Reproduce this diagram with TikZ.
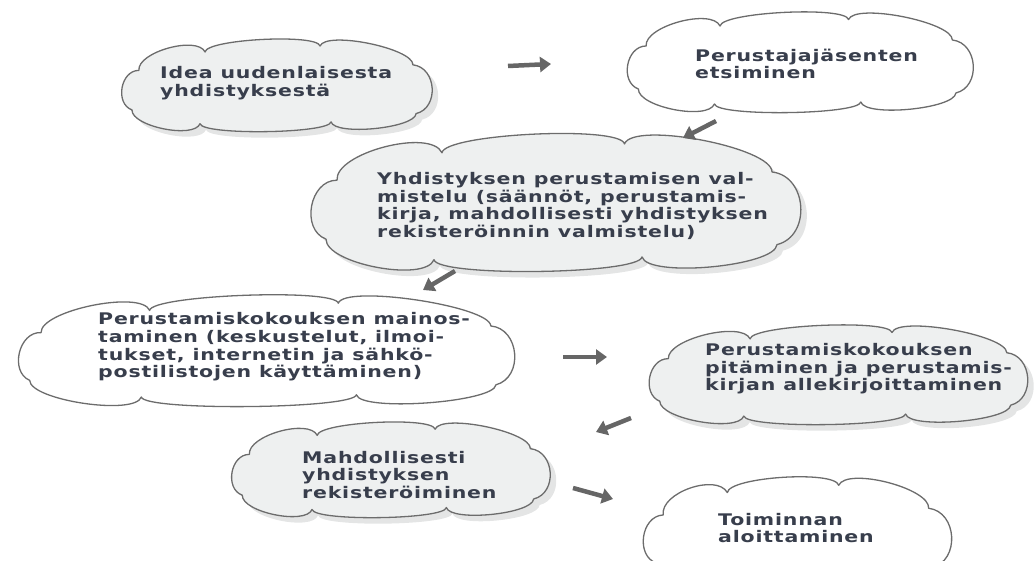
\documentclass[tikz,border=0pt]{standalone}
\usepackage{fontspec}
\usetikzlibrary{shadows,arrows.meta}
\newfontfamily\cloudfont[FakeStretch=1.28,LetterSpace=5]{DejaVu Sans}
\definecolor{cloudline}{HTML}{6C6C6C}
\definecolor{cloudgray}{HTML}{EEF0F0}
\definecolor{shadowgray}{HTML}{E4E5E5}
\definecolor{textcol}{HTML}{383E4C}
\definecolor{arrowcol}{HTML}{666666}
% cloud outline inside the box (x0,y0,W,H), y measured downwards
\newcommand\cloudbox[5]{%
  \pgfmathsetmacro\dA{0.20*#5}%
  \pgfmathsetmacro\dB{0.20*#5}%
  \pgfmathsetmacro\dC{0.14*#5}%
  \pgfmathsetmacro\dD{0.18*#5}%
  \pgfmathsetmacro\dE{0.26*#5}%
  \pgfmathsetmacro\dF{0.16*#5}%
  \pgfmathsetmacro\dG{0.13*#5}%
  \pgfmathsetmacro\dH{0.18*#5}%
  \path[#1] ({#2+0.038*#4},{#3+0.76*#5})
    to[lobe=\dA pt] ({#2+0.06*#4},{#3+0.33*#5})
    to[lobe=\dB pt] ({#2+0.27*#4},{#3+0.13*#5})
    to[lobe=\dC pt] ({#2+0.635*#4},{#3+0.065*#5})
    to[lobe=\dD pt] ({#2+0.93*#4},{#3+0.27*#5})
    to[lobe=\dE pt] ({#2+0.94*#4},{#3+0.80*#5})
    to[lobe=\dF pt] ({#2+0.67*#4},{#3+0.89*#5})
    to[lobe=\dG pt] ({#2+0.254*#4},{#3+0.91*#5})
    to[lobe=\dH pt] ({#2+0.038*#4},{#3+0.76*#5}) -- cycle;}
\begin{document}
\begin{tikzpicture}[x=1pt,y=-1pt,
  lobe/.style={bend left=80, distance=#1},
  cloudbase/.style={draw=cloudline, line width=1.3pt, line join=round},
  graycloud/.style={cloudbase, fill=cloudgray,
    drop shadow={shadow xshift=6pt, shadow yshift=-6pt, fill=shadowgray, opacity=1}},
  whitecloud/.style={cloudbase, fill=white},
  cloudtext/.style={font=\cloudfont\bfseries\fontsize{16}{17.6}\selectfont,
    text=textcol, align=left, anchor=west, inner sep=0pt},
  flowarrow/.style={draw=arrowcol, line width=4.5pt,
    -{Triangle[length=11pt,width=15pt]}}]
\useasboundingbox (0,0) rectangle (1034,561);
\clip (0,0) rectangle (1034,561);

% clouds
\cloudbox{graycloud}{120}{40}{315}{92}
\cloudbox{whitecloud}{625}{13}{352}{100}
\cloudbox{graycloud}{307}{135}{500}{137}
\cloudbox{whitecloud}{10}{296}{517}{111}
\cloudbox{graycloud}{645}{326}{389}{99}
\cloudbox{graycloud}{230}{423}{323}{95}
\cloudbox{whitecloud}{645}{478}{305}{112}

% texts
\node[cloudtext] (t1) at (160,83)  {Idea uudenlaisesta\\yhdistyksestä};
\node[cloudtext] (t2) at (695,64)  {Perustajajäsenten\\etsiminen};
\node[cloudtext] (t3) at (377,206) {Yhdistyksen perustamisen val-\\mistelu (säännöt, perustamis-\\kirja, mahdollisesti yhdistyksen\\rekisteröinnin valmistelu)};
\node[cloudtext] (t4) at (98,347)  {Perustamiskokouksen mainos-\\taminen (keskustelut, ilmoi-\\tukset, internetin ja sähkö-\\postilistojen käyttäminen)};
\node[cloudtext] (t5) at (705,369) {Perustamiskokouksen\\pitäminen ja perustamis-\\kirjan allekirjoittaminen};
\node[cloudtext] (t6) at (302,475) {Mahdollisesti\\yhdistyksen\\rekisteröiminen};
\node[cloudtext] (t7) at (718,528) {Toiminnan\\aloittaminen};

% arrows
\coordinate (a1s) at (508,66);  \coordinate (a1e) at (551,64);
\coordinate (a2s) at (716,121); \coordinate (a2e) at (683,138);
\coordinate (a3s) at (455,271); \coordinate (a3e) at (423,290);
\coordinate (a4s) at (563,357); \coordinate (a4e) at (607,357);
\coordinate (a5s) at (631,418); \coordinate (a5e) at (596,432);
\coordinate (a6s) at (573,488); \coordinate (a6e) at (613,499);
\draw[flowarrow] (a1s) -- (a1e);
\draw[flowarrow] (a2s) -- (a2e);
\draw[flowarrow] (a3s) -- (a3e);
\draw[flowarrow] (a4s) -- (a4e);
\draw[flowarrow] (a5s) -- (a5e);
\draw[flowarrow] (a6s) -- (a6e);
\end{tikzpicture}
\end{document}
